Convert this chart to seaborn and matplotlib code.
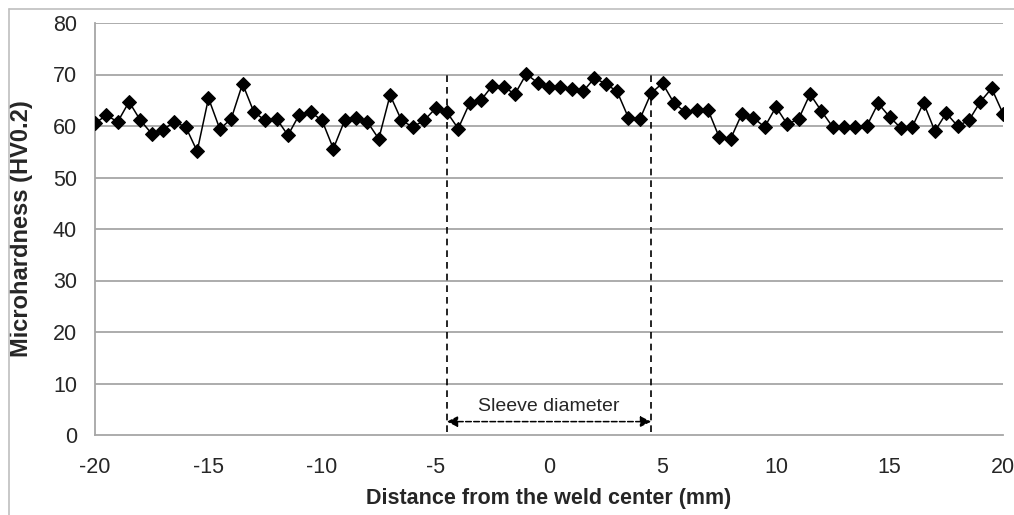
import matplotlib
matplotlib.use("Agg")
import matplotlib.pyplot as plt
import numpy as np
import pandas as pd
import seaborn as sns
from matplotlib.lines import Line2D

# distance from weld center (mm), 0.5 mm step
distance = np.arange(-20, 20.01, 0.5)
hardness = [
    60.5, 62.1, 60.8, 64.7, 61.1, 58.5, 59.3, 60.8, 59.8, 55.1,
    65.4, 59.4, 61.4, 68.2, 62.7, 61.1, 61.4, 58.2, 62.2, 62.7,
    61.1, 55.6, 61.1, 61.6, 60.8, 57.5, 66.0, 61.1, 59.8, 61.1,
    63.4, 62.7, 59.5, 64.4, 65.0, 67.8, 67.6, 66.2, 70.1, 68.4,
    67.6, 67.6, 67.1, 66.7, 69.3, 68.2, 66.7, 61.6, 61.3, 66.4,
    68.3, 64.5, 62.7, 63.2, 63.2, 57.8, 57.5, 62.4, 61.6, 59.8,
    63.7, 60.3, 61.4, 66.2, 62.9, 59.8, 59.8, 59.8, 60.0, 64.4,
    61.8, 59.6, 59.8, 64.5, 59.0, 62.5, 60.0, 61.1, 64.7, 67.3,
    62.4,
]
sleeve_edges = [-4.5, 4.5]
x_ticks = [-20, -15, -10, -5, 0, 5, 10, 15, 20]
y_ticks = [0, 10, 20, 30, 40, 50, 60, 70, 80]

df = pd.DataFrame({"distance": distance, "hardness": hardness})

sns.set_style("white")
plt.rcParams["font.family"] = ["Liberation Sans", "DejaVu Sans"]

fig = plt.figure(figsize=(10.14, 5.15), dpi=100)
ax = fig.add_axes([95 / 1014, 1 - 435 / 515, (1003 - 95) / 1014, (435 - 23) / 515])

grid_c = "#a6a6a6"
for y in y_ticks[1:]:
    ax.axhline(y, color=grid_c, lw=1.3, zorder=0)

sns.lineplot(data=df, x="distance", y="hardness", ax=ax, color="black", lw=1.1,
             marker="D", markersize=7, markeredgecolor="black", zorder=3)

for xe in sleeve_edges:
    ax.plot([xe, xe], [0.5, 70], color="black", lw=1.2, ls=(0, (4, 3)), zorder=2)

ax.annotate("", xy=(sleeve_edges[0], 2.6), xytext=(sleeve_edges[1], 2.6),
            arrowprops=dict(arrowstyle="<|-|>", color="black", lw=1.1, ls="--",
                            mutation_scale=16, shrinkA=0, shrinkB=0))
ax.text(0, 5.6, "Sleeve diameter", ha="center", va="center", fontsize=14)

ax.set_xlim(-20, 20)
ax.set_ylim(0, 80)
ax.set_xticks(x_ticks)
ax.set_yticks(y_ticks)
ax.set_xticklabels([str(t) for t in x_ticks], fontsize=15.5)
ax.set_yticklabels([str(t) for t in y_ticks], fontsize=15.5)
ax.tick_params(axis="both", direction="out", length=4, color=grid_c, width=1.2)
ax.tick_params(axis="y", pad=9)
ax.tick_params(axis="x", pad=12)

for side in ["top", "right"]:
    ax.spines[side].set_visible(False)
for side in ["left", "bottom"]:
    ax.spines[side].set_color(grid_c)
    ax.spines[side].set_linewidth(1.3)

ax.set_xlabel("Distance from the weld center (mm)", fontsize=15.5, fontweight="bold")
ax.set_ylabel("Microhardness (HV0.2)", fontsize=17, fontweight="bold")
ax.xaxis.set_label_coords(0.5, -(488 - 435) / 412)
ax.yaxis.set_label_coords((33 - 95) / 908, 0.5)

# chart-area border
fig.add_artist(Line2D([9 / 1014, 1], [1 - 9 / 515] * 2, transform=fig.transFigure,
                      color="#bfbfbf", lw=1.2))
fig.add_artist(Line2D([9 / 1014] * 2, [0, 1 - 9 / 515], transform=fig.transFigure,
                      color="#bfbfbf", lw=1.2))

fig.savefig("out.png", dpi=100)
